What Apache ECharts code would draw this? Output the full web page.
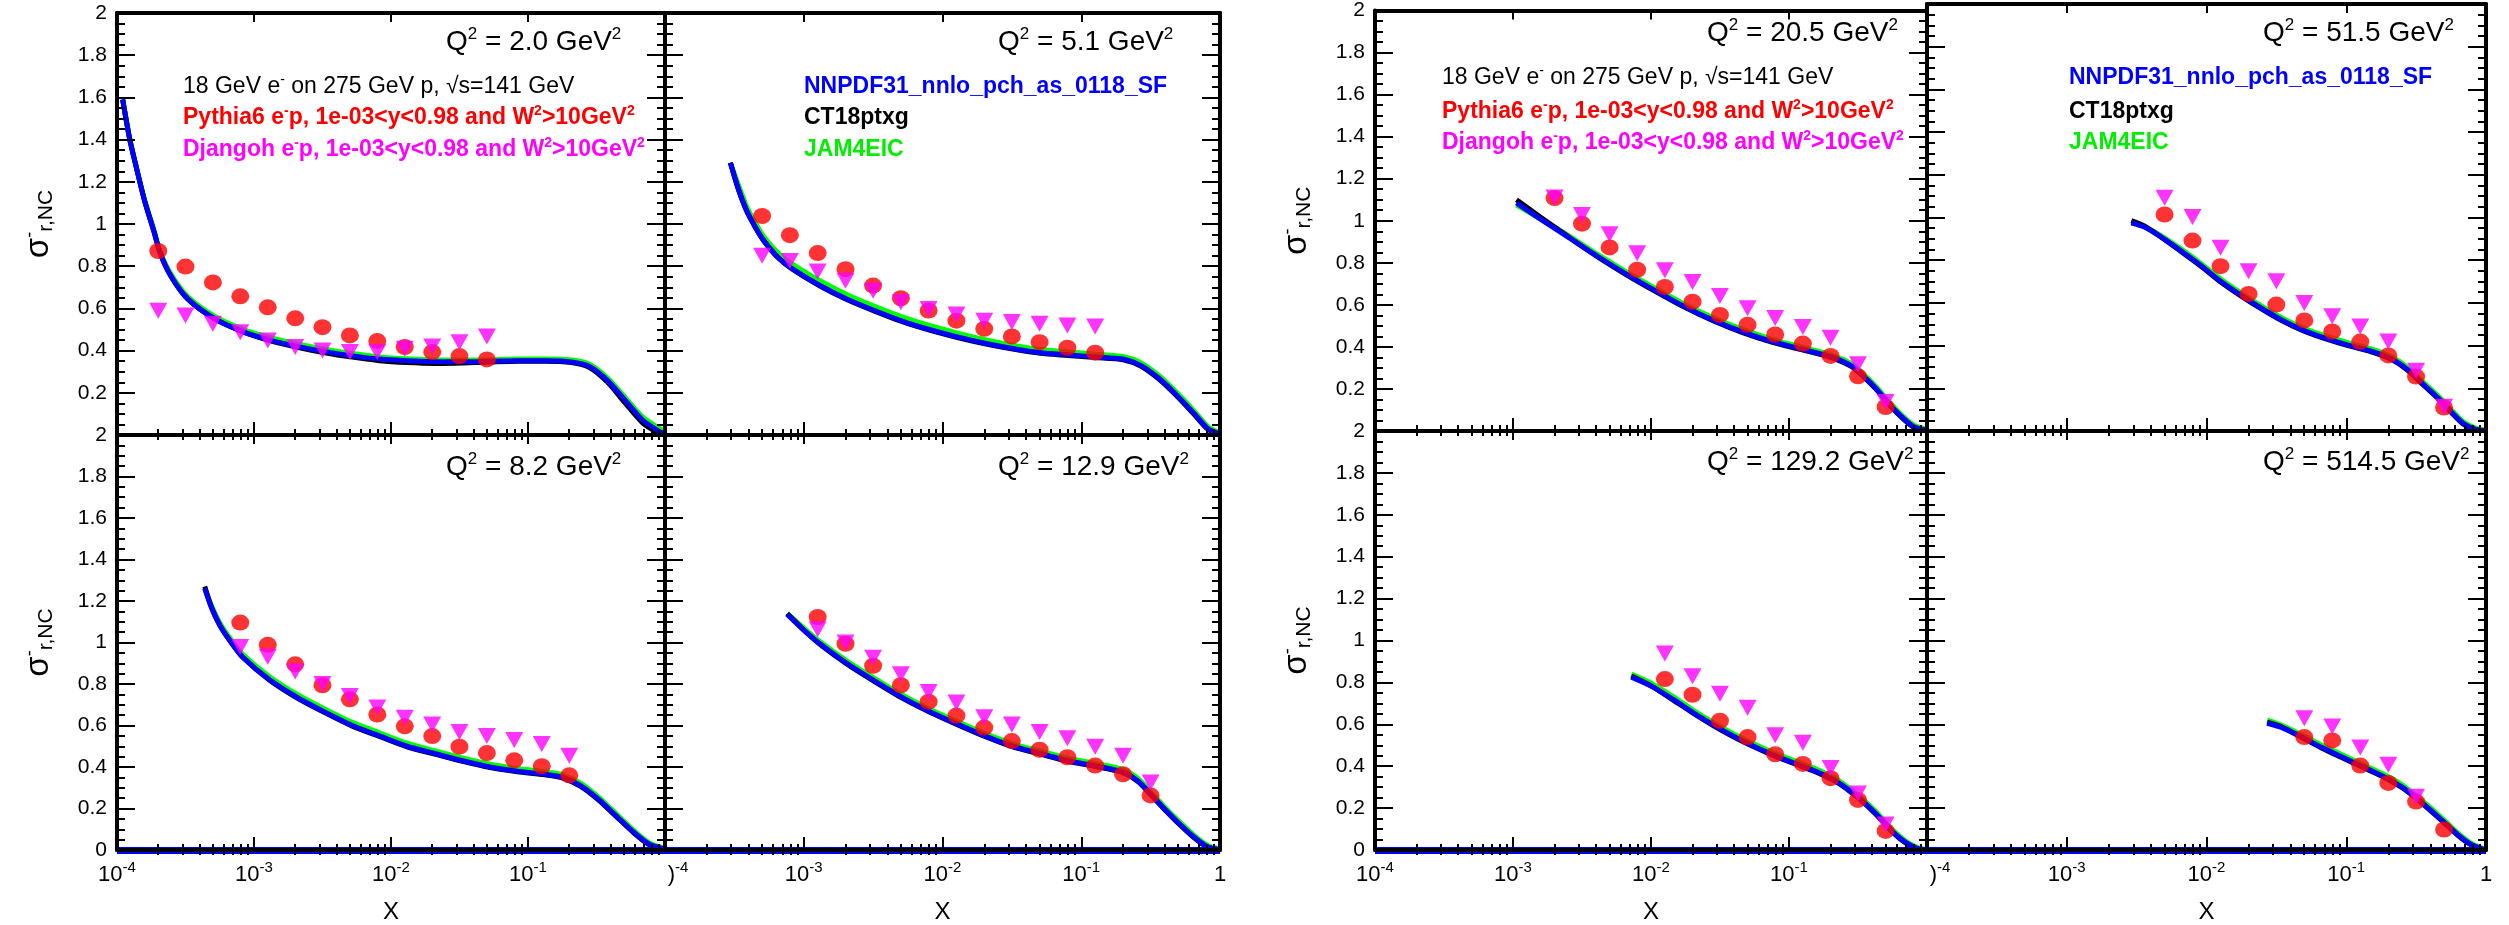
<!DOCTYPE html>
<html><head><meta charset="utf-8">
<script src="https://cdn.jsdelivr.net/npm/echarts@6/dist/echarts.min.js"></script>
<style>html,body{margin:0;padding:0;background:#fff}#c{width:2509px;height:925px}</style>
</head><body><div id="c"></div>
<script>
// ---------------- DATA ----------------
const q2Labels = ['2.0', '5.1', '8.2', '12.9', '20.5', '51.5', '129.2', '514.5'];

// bin centres (x) of the simulated points
const xBins = [2.0e-4, 3.16e-4, 5.01e-4, 7.94e-4, 1.26e-3, 2.0e-3, 3.16e-3, 5.01e-3, 7.94e-3,
               1.26e-2, 2.0e-2, 3.16e-2, 5.01e-2, 7.94e-2, 0.126, 0.2, 0.316, 0.501];

// Pythia6 (red circles) and Djangoh (magenta triangles), aligned with xBins
const pythia_2p0  = [0.872,0.798,0.723,0.657,0.605,0.553,0.511,0.472,0.445,0.417,0.393,0.374,0.358,null,null,null,null,null];
const djangoh_2p0 = [0.589,0.566,0.527,0.487,0.448,0.417,0.401,0.393,0.393,0.409,0.420,0.440,0.467,null,null,null,null,null];
const pythia_5p1  = [null,null,1.038,0.947,0.862,0.786,0.708,0.648,0.590,0.542,0.503,0.467,0.440,0.414,0.390,null,null,null];
const djangoh_5p1 = [null,null,0.849,0.825,0.775,0.731,0.684,0.629,0.597,0.571,0.542,0.535,0.527,0.519,0.514,null,null,null];
const pythia_8p2  = [null,null,null,1.096,0.989,0.895,0.794,0.726,0.653,0.596,0.549,0.498,0.467,0.432,0.404,0.360,null,null];
const djangoh_8p2 = [null,null,null,0.978,0.931,0.860,0.800,0.742,0.687,0.637,0.605,0.569,0.549,0.530,0.511,0.454,null,null];
const pythia_12p9  = [null,null,null,null,1.123,0.994,0.888,0.794,0.715,0.648,0.590,0.525,0.483,0.447,0.407,0.365,0.263,null];
const djangoh_12p9 = [null,null,null,null,1.064,1.000,0.926,0.847,0.761,0.711,0.640,0.605,0.569,0.538,0.498,0.454,0.325,null];
const pythia_20p5  = [null,null,null,null,null,1.108,0.986,0.873,0.767,0.685,0.615,0.552,0.505,0.459,0.416,0.357,0.260,0.114];
const djangoh_20p5 = [null,null,null,null,null,1.110,1.027,0.936,0.845,0.764,0.709,0.642,0.584,0.537,0.495,0.443,0.318,0.138];
const pythia_51p5  = [null,null,null,null,null,null,null,1.014,0.892,0.772,0.642,0.592,0.518,0.466,0.419,0.354,0.255,0.110];
const djangoh_51p5 = [null,null,null,null,null,null,null,1.092,1.002,0.858,0.748,0.701,0.599,0.537,0.490,0.419,0.282,0.114];
const pythia_129p2  = [null,null,null,null,null,null,null,null,null,0.816,0.741,0.617,0.539,0.457,0.411,0.343,0.239,0.091];
const djangoh_129p2 = [null,null,null,null,null,null,null,null,null,0.938,0.829,0.746,0.679,0.548,0.512,0.392,0.270,0.122];
const pythia_514p5  = [null,null,null,null,null,null,null,null,null,null,null,null,0.539,0.523,0.403,0.320,0.231,0.098];
const djangoh_514p5 = [null,null,null,null,null,null,null,null,null,null,null,null,0.629,0.590,0.489,0.407,0.254,null];

// theory curves: x grid and values for NNPDF31 (blue), CT18ptxg (black), JAM4EIC (green)
const curveX_2p0 = [1.1e-4,1.24e-4,1.37e-4,1.59e-4,1.85e-4,2.07e-4,2.49e-4,3.28e-4,5.18e-4,8.24e-4,1.3e-3,2.07e-3,3.28e-3,5.22e-3,8.24e-3,1.31e-2,2.08e-2,3.33e-2,5.3e-2,8.49e-2,0.133,0.208,0.281,0.378,0.511,0.689,0.893,1.0];
const nnpdf_2p0 = [1.59,1.40,1.28,1.11,0.97,0.86,0.75,0.645,0.55,0.49,0.45,0.42,0.395,0.375,0.36,0.352,0.348,0.347,0.349,0.352,0.352,0.346,0.325,0.26,0.165,0.07,0.02,0.005];
const ct18_2p0  = [1.59,1.40,1.28,1.11,0.97,0.86,0.75,0.645,0.55,0.49,0.448,0.416,0.39,0.369,0.352,0.343,0.339,0.341,0.346,0.35,0.35,0.343,0.32,0.252,0.152,0.056,0.01,0.0];
const jam_2p0   = [1.59,1.40,1.28,1.115,0.977,0.868,0.76,0.656,0.562,0.502,0.462,0.432,0.407,0.386,0.37,0.361,0.356,0.355,0.357,0.36,0.36,0.355,0.335,0.272,0.178,0.085,0.035,0.02];

const curveX_5p1 = [2.96e-4,3.36e-4,3.89e-4,4.52e-4,5.16e-4,6.55e-4,8.18e-4,1.3e-3,2.04e-3,3.24e-3,5.13e-3,8.05e-3,1.28e-2,2.02e-2,3.21e-2,5.08e-2,8.0e-2,0.127,0.20,0.268,0.361,0.486,0.655,0.818,1.0];
const nnpdf_5p1 = [1.29,1.17,1.06,0.98,0.92,0.84,0.79,0.71,0.645,0.59,0.54,0.50,0.465,0.435,0.41,0.39,0.38,0.37,0.36,0.33,0.27,0.19,0.10,0.03,0.005];
const ct18_5p1  = [1.29,1.17,1.06,0.98,0.92,0.84,0.788,0.707,0.642,0.587,0.537,0.497,0.462,0.432,0.407,0.387,0.377,0.367,0.357,0.327,0.266,0.186,0.096,0.027,0.003];
const jam_5p1   = [1.29,1.19,1.08,1.0,0.94,0.862,0.812,0.732,0.666,0.61,0.56,0.519,0.483,0.452,0.426,0.405,0.394,0.383,0.372,0.343,0.283,0.202,0.112,0.04,0.01];

const curveX_8p2 = [4.37e-4,4.88e-4,5.66e-4,6.82e-4,8.24e-4,1.3e-3,2.07e-3,3.28e-3,5.22e-3,8.24e-3,1.31e-2,2.08e-2,3.33e-2,5.3e-2,8.36e-2,0.133,0.179,0.242,0.326,0.44,0.593,0.769,1.0];
const nnpdf_8p2 = [1.26,1.17,1.08,1.00,0.93,0.82,0.735,0.665,0.60,0.55,0.50,0.465,0.43,0.40,0.38,0.365,0.35,0.31,0.245,0.165,0.085,0.028,0.004];
const ct18_8p2  = [1.27,1.172,1.08,1.0,0.93,0.818,0.732,0.662,0.597,0.547,0.497,0.462,0.427,0.397,0.377,0.362,0.347,0.307,0.242,0.162,0.082,0.025,0.002];
const jam_8p2   = [1.26,1.18,1.092,1.013,0.944,0.835,0.75,0.68,0.615,0.565,0.515,0.479,0.444,0.414,0.393,0.377,0.362,0.322,0.256,0.175,0.094,0.034,0.008];

const curveX_12p9 = [7.6e-4,1.0e-3,1.3e-3,2.04e-3,3.24e-3,5.13e-3,8.05e-3,1.28e-2,2.02e-2,3.21e-2,5.08e-2,8.0e-2,0.127,0.201,0.259,0.316,0.389,0.486,0.655,0.818,1.0];
const nnpdf_12p9 = [1.135,1.06,0.995,0.90,0.815,0.735,0.668,0.607,0.55,0.50,0.465,0.43,0.405,0.375,0.33,0.27,0.205,0.14,0.06,0.015,0.002];
const ct18_12p9  = [1.14,1.06,0.993,0.897,0.812,0.732,0.665,0.604,0.547,0.497,0.462,0.427,0.402,0.372,0.327,0.267,0.202,0.137,0.057,0.013,0.001];
const jam_12p9   = [1.14,1.07,1.006,0.912,0.827,0.747,0.68,0.619,0.562,0.512,0.477,0.442,0.417,0.387,0.342,0.281,0.215,0.15,0.069,0.022,0.005];

const curveX_20p5 = [1.06e-3,1.56e-3,2.54e-3,4.11e-3,6.68e-3,1.09e-2,1.77e-2,2.87e-2,4.67e-2,7.59e-2,0.123,0.207,0.283,0.348,0.43,0.521,0.65,0.802,1.0];
const nnpdf_20p5 = [1.085,1.01,0.92,0.83,0.745,0.665,0.59,0.525,0.47,0.425,0.39,0.35,0.31,0.26,0.20,0.135,0.07,0.02,0.003];
const ct18_20p5  = [1.10,1.02,0.922,0.828,0.742,0.662,0.587,0.522,0.467,0.422,0.387,0.347,0.307,0.257,0.197,0.132,0.067,0.018,0.002];
const jam_20p5   = [1.075,1.012,0.928,0.84,0.756,0.677,0.602,0.537,0.482,0.436,0.40,0.36,0.32,0.27,0.21,0.145,0.078,0.028,0.008];

const curveX_51p5 = [2.9e-3,3.59e-3,4.69e-3,6.53e-3,9.12e-3,1.27e-2,1.77e-2,2.47e-2,3.45e-2,4.81e-2,6.71e-2,0.1,0.149,0.208,0.272,0.354,0.462,0.564,0.689,0.841,1.0];
const nnpdf_51p5 = [0.975,0.955,0.91,0.845,0.775,0.70,0.635,0.575,0.52,0.475,0.44,0.405,0.375,0.34,0.29,0.22,0.15,0.09,0.035,0.008,0.002];
const ct18_51p5  = [0.985,0.96,0.91,0.842,0.772,0.697,0.632,0.572,0.517,0.472,0.437,0.402,0.372,0.337,0.287,0.217,0.147,0.087,0.032,0.006,0.001];
const jam_51p5   = [0.975,0.958,0.916,0.854,0.785,0.711,0.646,0.586,0.531,0.486,0.451,0.416,0.386,0.35,0.30,0.23,0.16,0.099,0.043,0.014,0.005];

const curveX_129p2 = [7.21e-3,1.02e-2,1.44e-2,2.03e-2,2.86e-2,4.05e-2,5.71e-2,8.07e-2,0.114,0.161,0.228,0.321,0.424,0.558,0.687,0.845,1.0];
const nnpdf_129p2 = [0.825,0.78,0.72,0.655,0.595,0.54,0.492,0.448,0.41,0.372,0.322,0.248,0.175,0.09,0.04,0.008,0.001];
const ct18_129p2  = [0.83,0.78,0.717,0.652,0.592,0.537,0.489,0.445,0.407,0.369,0.319,0.245,0.172,0.087,0.037,0.006,0.0];
const jam_129p2   = [0.84,0.794,0.733,0.667,0.607,0.552,0.504,0.46,0.422,0.384,0.333,0.258,0.185,0.099,0.047,0.013,0.003];

const curveX_514p5 = [2.72e-2,3.43e-2,4.78e-2,6.65e-2,9.27e-2,0.129,0.18,0.251,0.35,0.488,0.637,0.776,0.948,1.0];
const nnpdf_514p5 = [0.605,0.585,0.54,0.49,0.445,0.40,0.355,0.30,0.225,0.14,0.07,0.028,0.004,0.002];
const ct18_514p5  = [0.61,0.588,0.538,0.487,0.442,0.397,0.352,0.297,0.222,0.137,0.067,0.026,0.003,0.001];
const jam_514p5   = [0.62,0.597,0.551,0.501,0.456,0.411,0.366,0.311,0.235,0.15,0.078,0.034,0.007,0.003];

// axis ticks and tick labels
const xMajorTicks = [1e-4, 1e-3, 1e-2, 1e-1, 1];
const xMajorExp   = ['-4', '-3', '-2', '-1', null];
const xMinorTicks = [2e-4,3e-4,4e-4,5e-4,6e-4,7e-4,8e-4,9e-4, 2e-3,3e-3,4e-3,5e-3,6e-3,7e-3,8e-3,9e-3,
                     2e-2,3e-2,4e-2,5e-2,6e-2,7e-2,8e-2,9e-2, 0.2,0.3,0.4,0.5,0.6,0.7,0.8,0.9];
const yMin = 0, yMax = 2, yStep = 0.2;

const legendBeam   = '18 GeV e';
const legendPythia = 'Pythia6 e';
const legendDjangoh = 'Djangoh e';
const pdfNames = ['NNPDF31_nnlo_pch_as_0118_SF', 'CT18ptxg', 'JAM4EIC'];

// ---------------- LAYOUT ----------------
const FONT = '"Liberation Sans", Arial, Helvetica, sans-serif';
const panels = [
  {grid:{left:117,  top:13,  width:548, height:422}, col:0, row:0, q:[446,42]},
  {grid:{left:665,  top:13,  width:555, height:422}, col:1, row:0, q:[998,42]},
  {grid:{left:117,  top:435, width:548, height:424}, col:0, row:1, q:[446,467]},
  {grid:{left:665,  top:435, width:555, height:424}, col:1, row:1, q:[998,467]},
  {grid:{left:1375, top:4,   width:552, height:427}, col:0, row:0, q:[1707,33]},
  {grid:{left:1927, top:4,   width:559, height:427}, col:1, row:0, q:[2263,33]},
  {grid:{left:1375, top:431, width:552, height:427}, col:0, row:1, q:[1707,462]},
  {grid:{left:1927, top:431, width:559, height:427}, col:1, row:1, q:[2263,462]}
];
const panelData = [
  [curveX_2p0, nnpdf_2p0, ct18_2p0, jam_2p0, pythia_2p0, djangoh_2p0],
  [curveX_5p1, nnpdf_5p1, ct18_5p1, jam_5p1, pythia_5p1, djangoh_5p1],
  [curveX_8p2, nnpdf_8p2, ct18_8p2, jam_8p2, pythia_8p2, djangoh_8p2],
  [curveX_12p9, nnpdf_12p9, ct18_12p9, jam_12p9, pythia_12p9, djangoh_12p9],
  [curveX_20p5, nnpdf_20p5, ct18_20p5, jam_20p5, pythia_20p5, djangoh_20p5],
  [curveX_51p5, nnpdf_51p5, ct18_51p5, jam_51p5, pythia_51p5, djangoh_51p5],
  [curveX_129p2, nnpdf_129p2, ct18_129p2, jam_129p2, pythia_129p2, djangoh_129p2],
  [curveX_514p5, nnpdf_514p5, ct18_514p5, jam_514p5, pythia_514p5, djangoh_514p5]
];
const legendBlocks = [
  {x:183,  ys:[87,118,150], kind:'gen'},
  {x:804,  ys:[87,118,150], kind:'pdf'},
  {x:1442, ys:[78,112,143], kind:'gen'},
  {x:2069, ys:[78,112,143], kind:'pdf'}
];

const zip = (xs, ys) => xs.map((x, i) => [x, ys[i]]).filter(p => p[1] !== null);

const opt = {animation:false, backgroundColor:'#ffffff', grid:[], xAxis:[], yAxis:[], series:[], graphic:[]};

const tickStyle = {color:'#000', width:2};
const frameStyle = {color:'#000', width:4};

panels.forEach((P, g) => {
  opt.grid.push(Object.assign({containLabel:false}, P.grid));
  const xBase = {gridIndex:g, type:'log', logBase:10, min:1e-4, max:1, splitLine:{show:false},
                 minorTick:{show:false}, minorSplitLine:{show:false}, z:5, silent:true};
  const labelVals = P.col === 0 ? xMajorTicks.slice(0, 4) : xMajorTicks;
  opt.xAxis.push(Object.assign({}, xBase, {
    position:'bottom',
    axisLine:{show:true, onZero:false, lineStyle:frameStyle},
    axisTick:{show:true, inside:true, length:13, customValues:xMajorTicks, lineStyle:tickStyle},
    axisLabel: P.row === 1 ? {
      show:true, customValues:labelVals, margin:10,
      formatter: v => {
        const idx = xMajorTicks.findIndex(t => Math.abs(Math.log10(t) - Math.log10(v)) < 1e-6);
        const e = xMajorExp[idx];
        if (e === null) return '{b|1}';
        if (P.col === 1 && idx === 0) return '{c|)}{s|' + e + '}';
        return '{b|10}{s|' + e + '}';
      },
      rich:{
        b:{fontSize:22, fontFamily:FONT, color:'#000', lineHeight:26, verticalAlign:'bottom'},
        c:{fontSize:22, fontFamily:FONT, color:'#000', lineHeight:26, verticalAlign:'bottom', padding:[0,0,0,26]},
        s:{fontSize:15, fontFamily:FONT, color:'#000', lineHeight:15, verticalAlign:'top'}
      }
    } : {show:false},
    name: P.row === 1 ? 'X' : '', nameLocation:'middle', nameGap:50,
    nameTextStyle:{fontFamily:FONT, fontSize:24, color:'#000'}
  }));
  opt.xAxis.push(Object.assign({}, xBase, {
    position:'bottom', axisLine:{show:false},
    axisTick:{show:true, inside:true, length:6, customValues:xMinorTicks, lineStyle:tickStyle},
    axisLabel:{show:false}
  }));
  opt.xAxis.push(Object.assign({}, xBase, {
    position:'top', axisLine:{show:true, onZero:false, lineStyle:frameStyle},
    axisTick:{show:true, inside:true, length:9, customValues:xMajorTicks, lineStyle:tickStyle},
    axisLabel:{show:false}
  }));
  opt.xAxis.push(Object.assign({}, xBase, {
    position:'top', axisLine:{show:false},
    axisTick:{show:true, inside:true, length:5, customValues:xMinorTicks, lineStyle:tickStyle},
    axisLabel:{show:false}
  }));

  const yBase = {gridIndex:g, type:'value', min:yMin, max:yMax, interval:yStep, splitLine:{show:false},
                 minorSplitLine:{show:false}, z:5, silent:true,
                 axisLine:{show:true, onZero:false, lineStyle:frameStyle},
                 axisTick:{show:true, inside:true, length:18, lineStyle:tickStyle},
                 minorTick:{show:true, splitNumber:4, length:8, lineStyle:tickStyle}};
  opt.yAxis.push(Object.assign({}, yBase, {
    position:'left',
    axisLabel: P.col === 0 ? {
      show:true, fontSize:21, fontFamily:FONT, color:'#000', margin:10,
      formatter: v => (P.row === 0 && v === 0) ? '' : String(+v.toFixed(1))
    } : {show:false},
    name: P.col === 0 ? '{a|σ}{p|-}{b|r,NC}' : '',
    nameLocation:'middle', nameRotate:90, nameGap:60,
    nameTextStyle:{rich:{
      a:{fontSize:33, fontFamily:FONT, color:'#000', lineHeight:36},
      p:{fontSize:18, fontFamily:FONT, color:'#000', lineHeight:18, verticalAlign:'top'},
      b:{fontSize:21, fontFamily:FONT, color:'#000', lineHeight:21, verticalAlign:'bottom'}
    }}
  }));
  opt.yAxis.push(Object.assign({}, yBase, {position:'right', axisLabel:{show:false}}));

  const D = panelData[g];
  const xi = 4 * g, yi = 2 * g;
  const lineBase = {type:'line', xAxisIndex:xi, yAxisIndex:yi, showSymbol:false, smooth:0.25,
                    silent:true, z:2};
  opt.series.push(Object.assign({}, lineBase, {name:pdfNames[2], data:zip(D[0], D[3]),
    lineStyle:{color:'#00ff00', width:5}}));
  opt.series.push(Object.assign({}, lineBase, {name:pdfNames[1], data:zip(D[0], D[2]),
    lineStyle:{color:'#000000', width:5}}));
  const nn = Object.assign({}, lineBase, {name:pdfNames[0], data:zip(D[0], D[1]),
    lineStyle:{color:'#0000ff', width:5}});
  if (P.row === 1) {
    nn.markLine = {silent:true, symbol:'none', label:{show:false},
      lineStyle:{color:'#0000ff', width:7, type:'solid'}, data:[{yAxis:0}]};
  }
  opt.series.push(nn);
  opt.series.push({type:'scatter', name:'Pythia6', xAxisIndex:xi, yAxisIndex:yi, silent:true,
    data:zip(xBins, D[4]), symbol:'circle', symbolSize:[18,16], itemStyle:{color:'#ff0000'}, z:3});
  opt.series.push({type:'scatter', name:'Djangoh', xAxisIndex:xi, yAxisIndex:yi, silent:true,
    data:zip(xBins, D[5]), symbol:'triangle', symbolRotate:180, symbolSize:[18,16],
    itemStyle:{color:'#ff00ff'}, z:4});

  opt.graphic.push({type:'text', x:P.q[0], y:P.q[1], silent:true, z:10, style:{
    text:'{n|Q}{s|2}{n| = ' + q2Labels[g] + ' GeV}{s|2}', align:'left', verticalAlign:'middle',
    rich:{
      n:{fontSize:28, fontFamily:FONT, fill:'#000', lineHeight:32},
      s:{fontSize:17, fontFamily:FONT, fill:'#000', lineHeight:17, verticalAlign:'top'}
    }}});
});

const richFor = (color, weight) => ({
  n:{fontSize:23, fontFamily:FONT, fontWeight:weight, fill:color, lineHeight:27},
  s:{fontSize:14, fontFamily:FONT, fontWeight:weight, fill:color, lineHeight:14, verticalAlign:'top'}
});
legendBlocks.forEach(B => {
  let lines;
  if (B.kind === 'gen') {
    lines = [
      ['{n|' + legendBeam + '}{s|-}{n| on 275 GeV p, √s=141 GeV}', '#000000', 'normal'],
      ['{n|' + legendPythia + '}{s|-}{n|p, 1e-03<y<0.98 and W}{s|2}{n|>10GeV}{s|2}', '#ff0000', 'bold'],
      ['{n|' + legendDjangoh + '}{s|-}{n|p, 1e-03<y<0.98 and W}{s|2}{n|>10GeV}{s|2}', '#ff00ff', 'bold']
    ];
  } else {
    lines = [
      ['{n|' + pdfNames[0] + '}', '#0000ff', 'bold'],
      ['{n|' + pdfNames[1] + '}', '#000000', 'bold'],
      ['{n|' + pdfNames[2] + '}', '#00ee00', 'bold']
    ];
  }
  lines.forEach((L, i) => {
    opt.graphic.push({type:'text', x:B.x, y:B.ys[i], silent:true, z:10, style:{
      text:L[0], align:'left', verticalAlign:'middle', rich:richFor(L[1], L[2])}});
  });
});

const chart = echarts.init(document.getElementById('c'), null, {renderer:'canvas'});
chart.setOption(opt);
</script></body></html>
